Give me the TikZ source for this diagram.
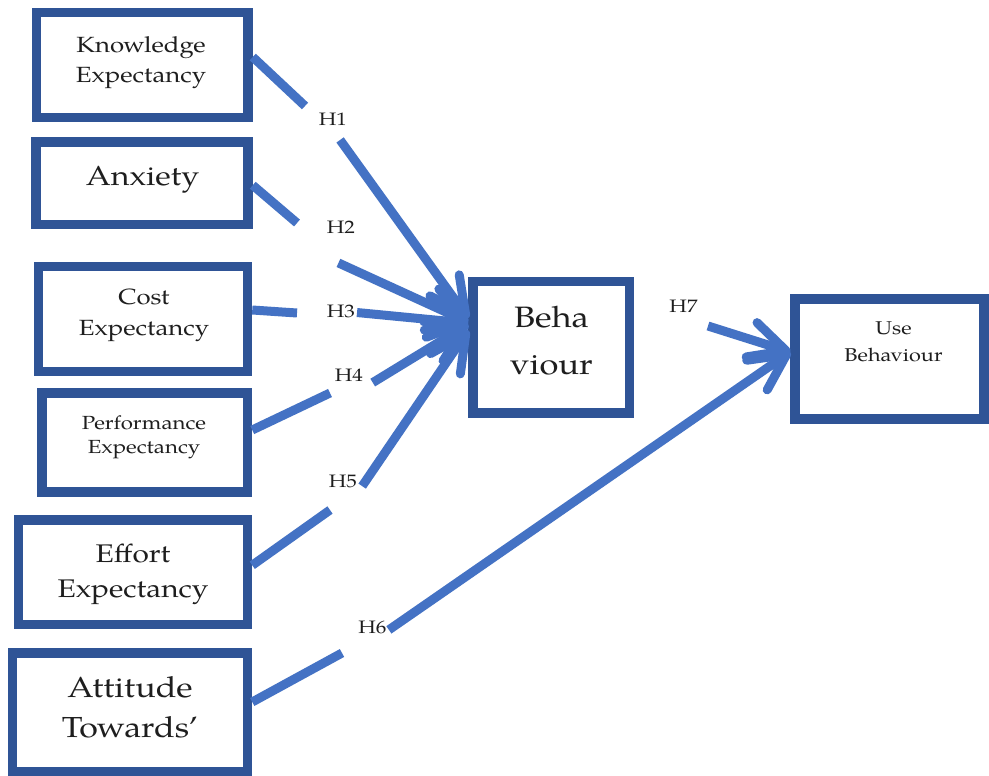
\documentclass[tikz,border=0pt]{standalone}
\usepackage{fontspec}
\setmainfont{TeX Gyre Pagella}[FakeStretch=1.17]
\usetikzlibrary{arrows.meta}
\definecolor{boxblue}{RGB}{47,84,150}
\definecolor{linkblue}{RGB}{68,114,196}
\definecolor{ink}{RGB}{30,30,30}

\begin{document}
\begin{tikzpicture}[x=1pt,y=-1pt,
  box/.style={draw=boxblue,line width=9.5pt,fill=white,inner sep=0pt},
  txt/.style={text=ink,align=center,inner sep=0pt},
  hyp/.style={text=ink,inner sep=0pt,anchor=base,font=\fontsize{18}{18}\selectfont},
  link/.style={draw=linkblue,line width=9pt,shorten <=-5pt,
    -{Straight Barb[length=36pt,width=36pt,round]}},
]
% canvas
\fill[white] (0,0) rectangle (989,776);
\useasboundingbox (0,0) rectangle (989,776);

% construct boxes
\node[box,minimum width=211.5pt,minimum height=105pt] (kn) at (142.25,65) {};
\node[box,minimum width=212pt,minimum height=82.5pt] (an) at (142,183.25) {};
\node[box,minimum width=209pt,minimum height=105pt] (co) at (143,319) {};
\node[box,minimum width=205.5pt,minimum height=99pt] (pe) at (144.75,442.5) {};
\node[box,minimum width=229pt,minimum height=104.5pt] (ef) at (133,572.25) {};
\node[box,minimum width=235pt,minimum height=119pt] (at) at (130,712.5) {};
\node[box,minimum width=156.5pt,minimum height=131.5pt] (beh) at (551.25,347.25) {};
\node[box,minimum width=189pt,minimum height=120pt] (use) at (889.5,359) {};

% box captions
\node[txt,font=\fontsize{22}{30}\selectfont] (kn-t) at (141,63) {Knowledge\\Expectancy};
\node[txt,font=\fontsize{27.5}{33}\selectfont] (an-t) at (142.5,180) {Anxiety};
\node[txt,font=\fontsize{22}{31}\selectfont] (co-t) at (144,315.7) {Cost\\Expectancy};
\node[txt,font=\fontsize{19}{24}\selectfont] (pe-t) at (144,437.5) {Performance\\Expectancy};
\node[txt,font=\fontsize{25.5}{35}\selectfont] (ef-t) at (133,574.7) {Effort\\Expectancy};
\node[txt,font=\fontsize{29}{40}\selectfont] (at-t) at (130,707.5) {Attitude\\Towards’};
\node[txt,font=\fontsize{29.5}{47}\selectfont] (beh-t) at (551.5,340.75) {Beha\\viour};
\node[txt,font=\fontsize{18.5}{27}\selectfont] (use-t) at (893.5,342) {Use\\Behaviour};

% hypothesis labels
\node[hyp] (h1) at (333,125) {H1};
\node[hyp] (h2) at (341,233) {H2};
\node[hyp] (h3) at (341,317) {H3};
\node[hyp] (h4) at (349,381) {H4};
\node[hyp] (h5) at (343,487) {H5};
\node[hyp] (h6) at (372.5,633) {H6};
\node[hyp] (h7) at (683.5,312) {H7};

% breaks in the paths around the labels
\coordinate (g1a) at (305,106);  \coordinate (g1b) at (343,144);
\coordinate (g2a) at (297,223);  \coordinate (g2b) at (343,265);
\coordinate (g3a) at (297,313);  \coordinate (g3b) at (362,313);
\coordinate (g4a) at (330,393);  \coordinate (g4b) at (377,380);
\coordinate (g5a) at (330,510);  \coordinate (g5b) at (365,482);
\coordinate (g6a) at (342,653);  \coordinate (g6b) at (393,627);
\coordinate (g7b) at (708,326);

% paths
\draw[link] ([yshift=8pt]kn.east) -- (g1a) (g1b) -- ([yshift=29pt]beh.west);
\draw[link] ([yshift=-2pt]an.east) -- (g2a) (g2b) -- ([yshift=25pt]beh.west);
\draw[link] ([yshift=9pt]co.east) -- (g3a) (g3b) -- ([yshift=24pt]beh.west);
\draw[link] ([yshift=12.5pt]pe.east) -- (g4a) (g4b) -- ([yshift=23pt]beh.west);
\draw[link] ([yshift=7pt]ef.east) -- (g5a) (g5b) -- ([yshift=17pt]beh.west);
\draw[link] ([yshift=10.5pt]at.east) -- (g6a) (g6b) -- ([yshift=7pt]use.west);
\draw[link,shorten <=0pt] (g7b) -- ([yshift=7pt]use.west);
\end{tikzpicture}
\end{document}
